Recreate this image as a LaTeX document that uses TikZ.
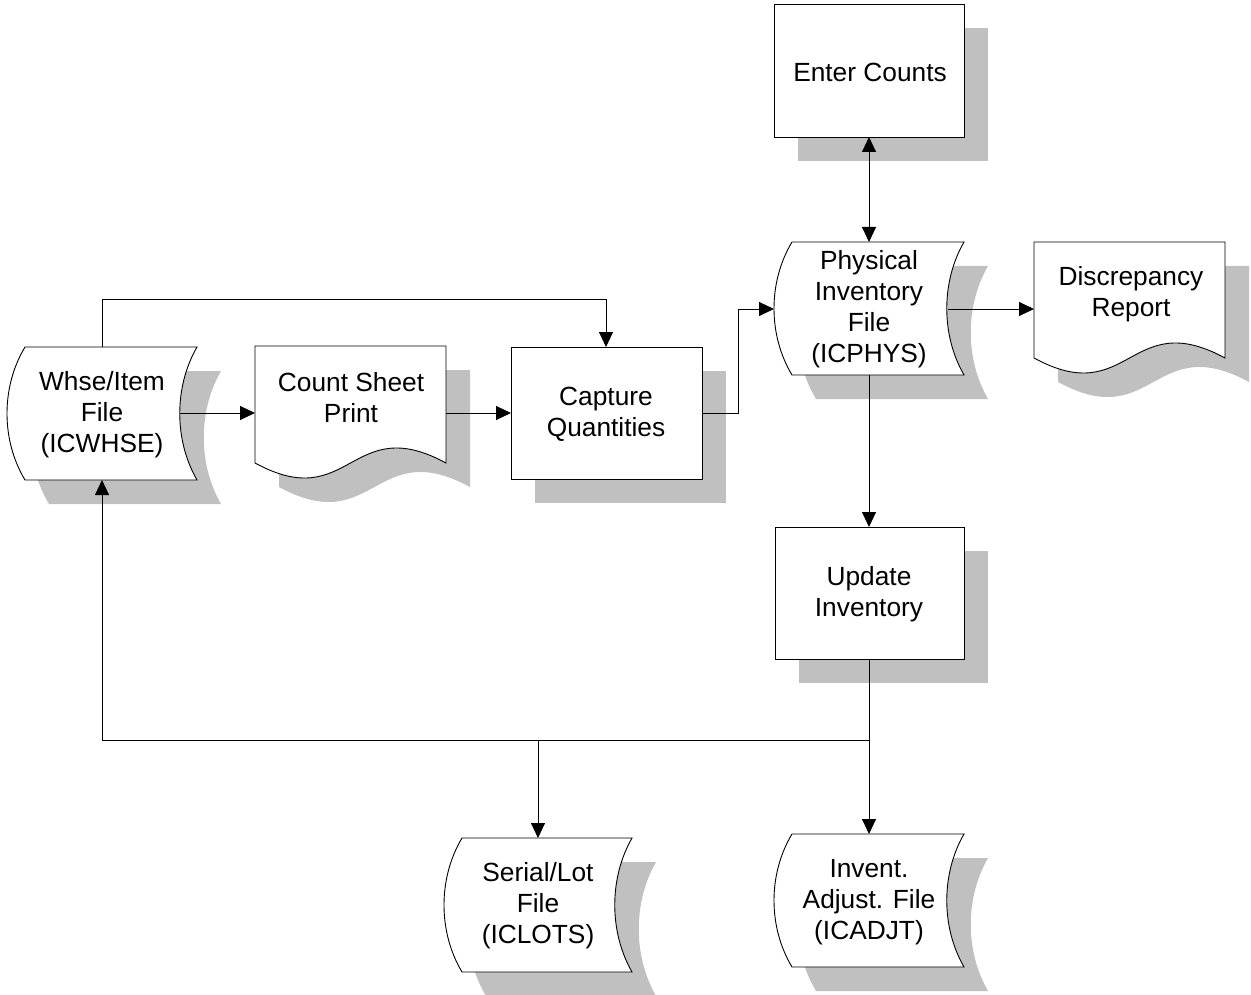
\documentclass[tikz,border=0pt]{standalone}
\usepackage{fontspec}
\setmainfont{Liberation Sans}
\usetikzlibrary{arrows.meta}
\definecolor{shadowgray}{RGB}{192,192,192}
\newcommand\StoredPath[4]{({#1+18},#2) -- (#3,#2) .. controls ({#3-23},{#2+0.3*(#4-#2)}) and ({#3-23},{#4-0.3*(#4-#2)}) .. (#3,#4) -- ({#1+18},#4) .. controls ({#1-6},{#4-0.3*(#4-#2)}) and ({#1-6},{#2+0.3*(#4-#2)}) .. ({#1+18},#2) -- cycle}
\newcommand\DocPath[4]{(#1,#2) -- (#3,#2) -- (#3,#4) .. controls ({(#1+#3)/2},{#4-52}) and ({(#1+#3)/2},{#4+52}) .. (#1,#4) -- cycle}
\newcommand\BoxPath[4]{(#1,#2) rectangle (#3,#4)}
\tikzset{
  boxshadow/.style={fill=shadowgray, draw=none, shift={(24,24)}},
  shapebody/.style={fill=white, draw=black, line width=0.9pt},
  lbl/.style={align=center, font=\fontsize{26.3}{31}\selectfont, inner sep=0pt},
  conn/.style={draw=black, line width=0.9pt},
  arr/.style={conn, -{Triangle[length=15pt,width=14pt]}},
  darr/.style={conn, {Triangle[length=15pt,width=14pt]}-{Triangle[length=15pt,width=14pt]}}
}
\begin{document}
\begin{tikzpicture}[x=1pt,y=-1pt]
\useasboundingbox (0,0) rectangle (1251,995);
% shadows
\fill[boxshadow] \StoredPath{7}{347}{197}{480};
\fill[boxshadow] \DocPath{255}{346}{446}{463};
\fill[boxshadow] \BoxPath{511}{347}{702}{479};
\fill[boxshadow] \BoxPath{774}{4}{964}{137};
\fill[boxshadow] \StoredPath{774}{242}{964}{375};
\fill[boxshadow] \DocPath{1034}{242}{1225}{358};
\fill[boxshadow] \BoxPath{775}{527}{964}{659};
\fill[boxshadow] \StoredPath{444}{838}{632}{972};
\fill[boxshadow] \StoredPath{774}{834}{964}{967};
% bodies
\path[shapebody] \StoredPath{7}{347}{197}{480};
\path[shapebody] \DocPath{255}{346}{446}{463};
\path[shapebody] \BoxPath{511}{347}{702}{479};
\path[shapebody] \BoxPath{774}{4}{964}{137};
\path[shapebody] \StoredPath{774}{242}{964}{375};
\path[shapebody] \DocPath{1034}{242}{1225}{358};
\path[shapebody] \BoxPath{775}{527}{964}{659};
\path[shapebody] \StoredPath{444}{838}{632}{972};
\path[shapebody] \StoredPath{774}{834}{964}{967};
% labels
\node[lbl] (whse) at (102,415) {Whse/Item\\File\\(ICWHSE)};
\node[lbl] (count) at (351,398) {Count Sheet\\Print};
\node[lbl] (capture) at (606,414) {Capture\\Quantities};
\node[lbl] (enter) at (870,72) {Enter Counts};
\node[lbl] (phys) at (869,309) {Physical\\Inventory\\File\\(ICPHYS)};
\node[lbl] (disc) at (1131,294) {Discrepancy\\Report};
\node[lbl] (update) at (869,594) {Update\\Inventory};
\node[lbl] (lots) at (538,906) {Serial/Lot\\File\\(ICLOTS)};
\node[lbl] (adjt) at (869,902) {Invent.\\Adjust. File\\(ICADJT)};
% connection points
\coordinate (whseT) at (102,347);
\coordinate (whseB) at (102,480);
\coordinate (whseE) at (180,413);
\coordinate (countW) at (255,413);
\coordinate (countE) at (446,413);
\coordinate (capW) at (511,413);
\coordinate (capE) at (702,413);
\coordinate (capT) at (606,347);
\coordinate (enterB) at (869,137);
\coordinate (physT) at (869,242);
\coordinate (physW) at (774,309);
\coordinate (physE) at (948,309);
\coordinate (physB) at (869,375);
\coordinate (discW) at (1034,309);
\coordinate (updT) at (869,527);
\coordinate (updB) at (869,659);
\coordinate (adjtT) at (869,834);
\coordinate (lotsT) at (538,838);
\coordinate (junc) at (869,740);
\coordinate (lotsJ) at (538,740);
% connectors
\draw[arr] (whseT) -- (102,299) -| (capT);
\draw[arr] (whseE) -- (countW);
\draw[arr] (countE) -- (capW);
\draw[arr] (capE) -- (738,413) |- (physW);
\draw[darr] (enterB) -- (physT);
\draw[arr] (physE) -- (discW);
\draw[arr] (physB) -- (updT);
\draw[arr] (updB) -- (adjtT);
\draw[arr] (junc) -| (whseB);
\draw[arr] (lotsJ) -- (lotsT);
\end{tikzpicture}
\end{document}
